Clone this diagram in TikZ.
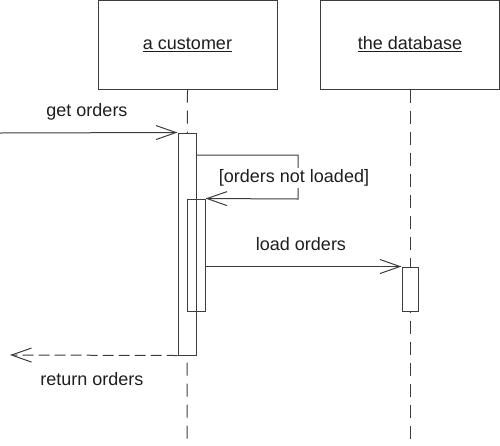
\documentclass[tikz,border=0pt]{standalone}
\usepackage{fontspec}
\setmainfont{Liberation Sans}
\usetikzlibrary{arrows.meta}
\definecolor{linec}{RGB}{60,60,60}
\definecolor{textc}{RGB}{30,30,30}
\begin{document}
\begin{tikzpicture}[x=1pt,y=-1pt,line width=1pt,
  lbl/.style={text=textc,font=\fontsize{18}{20}\selectfont,inner sep=0pt},
  obj/.style={draw=linec,minimum width=179pt,minimum height=89pt,inner sep=0pt,text=textc,font=\fontsize{18}{20}\selectfont},
  actbar/.style={draw=linec,inner sep=0pt,minimum width=18pt},
  lifeline/.style={draw=linec,dash pattern=on 13pt off 8pt},
  msg/.style={draw=linec,-{Straight Barb[length=20pt,width=14pt,line width=1pt]}},
  retmsg/.style={draw=linec,dash pattern=on 11pt off 5pt,-{Straight Barb[length=20pt,width=14pt,line width=1pt]}}
]
\useasboundingbox (0,0) rectangle (500,445);
% objects
\node[obj] (cust) at (187.5,44.5) {\underline{a customer}};
\node[obj] (db) at (410,44.5) {\underline{the database}};
% lifelines
\coordinate (cend) at (187,445);
\coordinate (dend) at (410,445);
\draw[lifeline] (cust.south) -- (cend);
\draw[lifeline] (db.south) -- (dend);
% activation bars
\node[actbar,fill=white,minimum height=222pt] (outer) at (187,244) {};
\node[actbar,minimum height=112pt] (inner) at (196,255) {};
\node[actbar,fill=white,minimum width=16pt,minimum height=44pt] (dbact) at (410,289) {};
% get orders
\coordinate (g0) at (0,133);
\draw[msg] (g0) -- (outer.north west);
\node[lbl] (lget) at (87,112) {get orders};
% self message
\coordinate (s1) at (298,155);
\coordinate (s2) at (298,199);
\draw[msg] (outer.east |- s1) -- (s1) -- (s2) -- (inner.north east);
\node[lbl,fill=white,inner sep=1.5pt] (lcond) at (294,178) {[orders not loaded]};
% load orders
\draw[msg] (inner.east |- dbact.north) -- (dbact.north west);
\node[lbl] (lload) at (301,244) {load orders};
% return
\coordinate (r0) at (10,355);
\draw[retmsg] (outer.south west) -- (r0);
\node[lbl] (lret) at (92,379) {return orders};
\end{tikzpicture}
\end{document}
